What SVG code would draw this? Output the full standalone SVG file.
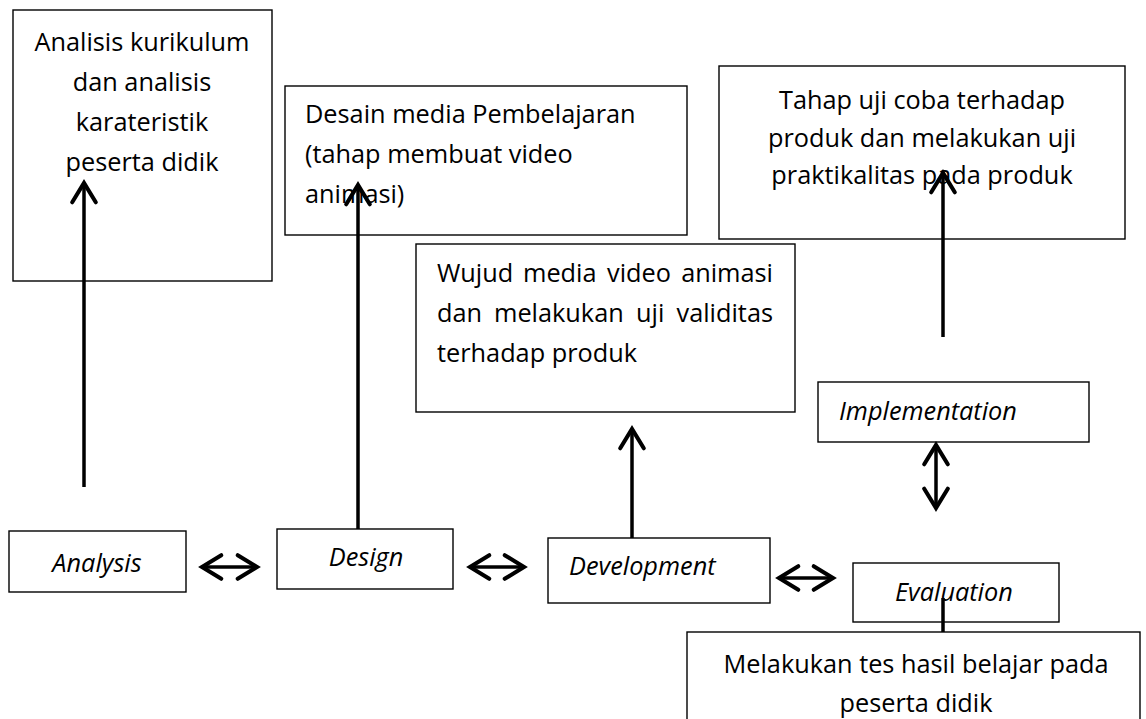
<svg xmlns="http://www.w3.org/2000/svg" width="1146" height="719" viewBox="0 0 1146 719">
<defs>
<style>
.box{fill:#fff;stroke:#000;stroke-width:1.4}
.t{font-family:"Open Sans","Noto Sans","Liberation Sans",sans-serif;font-size:25.3px;fill:#000}
.i{font-style:italic}
.c{text-anchor:middle}
.e{text-anchor:end}
.ln{stroke:#000;stroke-width:3.5;fill:none}
</style>
<marker id="ah" markerUnits="userSpaceOnUse" markerWidth="30" markerHeight="30" viewBox="-22 -14 26 28" refX="0" refY="0" orient="auto-start-reverse">
<path d="M-18,-11 L0,0 L-18,11" fill="none" stroke="#000" stroke-width="3.8" stroke-linecap="round" stroke-linejoin="miter"/>
</marker>
</defs>
<rect width="1146" height="719" fill="#fff"/>

<g id="analisis-box">
<rect class="box" x="13" y="10" width="259" height="271"/>
<text class="t c" x="142" y="51">Analisis kurikulum</text>
<text class="t c" x="142" y="91">dan analisis</text>
<text class="t c" x="142" y="131">karateristik</text>
<text class="t c" x="142" y="171">peserta didik</text>
</g>

<g id="desain-box">
<rect class="box" x="285" y="86" width="402" height="149"/>
<text class="t" x="305" y="123">Desain media Pembelajaran</text>
<text class="t" x="305" y="163">(tahap membuat video</text>
<text class="t" x="305" y="203">animasi)</text>
</g>

<g id="tahap-box">
<rect class="box" x="719" y="66" width="406" height="173"/>
<text class="t c" x="922" y="109">Tahap uji coba terhadap</text>
<text class="t c" x="922" y="147">produk dan melakukan uji</text>
<text class="t c" x="922" y="184">praktikalitas pada produk</text>
</g>

<g id="wujud-box">
<rect class="box" x="416" y="244" width="379" height="168"/>
<text class="t" y="282"><tspan x="437">Wujud</tspan><tspan x="523">media</tspan><tspan x="607">video</tspan><tspan x="773" text-anchor="end">animasi</tspan></text>
<text class="t" y="322"><tspan x="437">dan</tspan><tspan x="494">melakukan</tspan><tspan x="636">uji</tspan><tspan x="773" text-anchor="end">validitas</tspan></text>
<text class="t" x="437" y="362">terhadap produk</text>
</g>

<g id="implementation-box">
<rect class="box" x="818" y="382" width="271" height="60"/>
<text class="t i" x="839" y="420">Implementation</text>
</g>

<g id="analysis-box">
<rect class="box" x="9" y="531" width="177" height="61"/>
<text class="t i c" x="97" y="572">Analysis</text>
</g>

<g id="design-box">
<rect class="box" x="277" y="529" width="176" height="60"/>
<text class="t i c" x="366" y="566">Design</text>
</g>

<g id="development-box">
<rect class="box" x="548" y="538" width="222" height="65"/>
<text class="t i" x="569" y="575">Development</text>
</g>

<g id="evaluation-box">
<rect class="box" x="853" y="563" width="206" height="59"/>
<text class="t i" x="895" y="601">Evaluation</text>
</g>

<g id="tes-box">
<rect class="box" x="687" y="632" width="453" height="100"/>
<text class="t c" x="916" y="673">Melakukan tes hasil belajar pada</text>
<text class="t c" x="916" y="712">peserta didik</text>
</g>

<g id="connectors">
<line class="ln" x1="84" y1="487" x2="84" y2="183" marker-end="url(#ah)"/>
<line class="ln" x1="358" y1="529" x2="358" y2="185" marker-end="url(#ah)"/>
<line class="ln" x1="632" y1="538" x2="632" y2="429" marker-end="url(#ah)"/>
<line class="ln" x1="943" y1="337" x2="943" y2="173" marker-end="url(#ah)"/>
<line class="ln" x1="936" y1="445" x2="936" y2="508" stroke-width="3" marker-start="url(#ah)" marker-end="url(#ah)"/>
<line class="ln" x1="202" y1="567" x2="257" y2="567" stroke-width="3" marker-start="url(#ah)" marker-end="url(#ah)"/>
<line class="ln" x1="470" y1="567" x2="524" y2="567" stroke-width="3" marker-start="url(#ah)" marker-end="url(#ah)"/>
<line class="ln" x1="779" y1="578" x2="833" y2="578" stroke-width="3" marker-start="url(#ah)" marker-end="url(#ah)"/>
<line class="ln" x1="943" y1="598" x2="943" y2="632"/>
</g>
</svg>
